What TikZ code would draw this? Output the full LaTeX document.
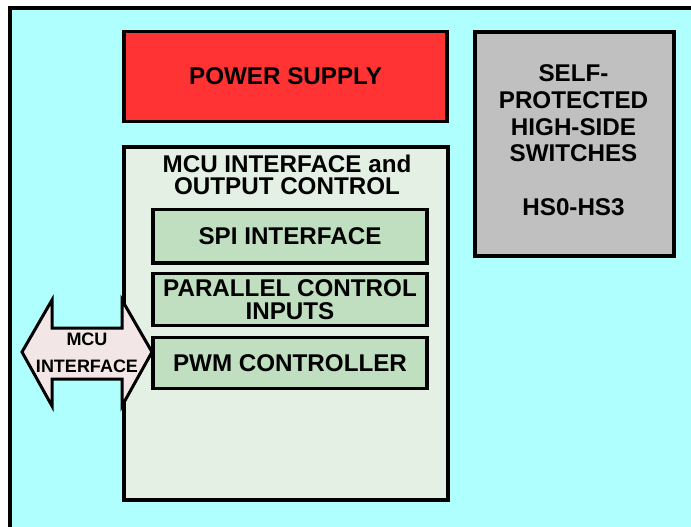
\documentclass[tikz,border=0pt]{standalone}
\usepackage{fontspec}
\setmainfont{Liberation Sans}
\definecolor{bgcyan}{RGB}{175,255,255}
\definecolor{psred}{RGB}{255,51,51}
\definecolor{hsgray}{RGB}{192,192,192}
\definecolor{mcugreen}{RGB}{229,240,228}
\definecolor{boxgreen}{RGB}{192,222,192}
\definecolor{arrowpink}{RGB}{242,230,230}
\begin{document}
\begin{tikzpicture}[x=1pt,y=-1pt,
  blk/.style={draw=black, line width=3.2pt, inner sep=0pt, outer sep=0pt},
  lbl/.style={font=\fontsize{24.2}{26.7}\selectfont\bfseries, align=center, inner sep=0pt},
  small/.style={font=\fontsize{18}{27}\selectfont\bfseries, align=center, inner sep=0pt}
]
\useasboundingbox (0,0) rectangle (691,527);
\fill[white] (0,0) rectangle (691,527);
\draw[line width=3.4pt, fill=bgcyan] (10,8) rectangle (705,540);

% power supply
\node[blk, lbl, fill=psred, minimum width=323pt, minimum height=90pt] (ps) at (285.5,76.3) {POWER SUPPLY};

% high-side switches
\node[blk, fill=hsgray, minimum width=199pt, minimum height=224pt] (hs) at (574.5,144) {};
\node[lbl] (hstext) at (573.5,140.3) {SELF-\\PROTECTED\\HIGH-SIDE\\SWITCHES\\[26.7pt]HS0-HS3};

% MCU interface block
\node[blk, fill=mcugreen, minimum width=324pt, minimum height=353pt] (mcu) at (286,323.5) {};
\node[lbl, font=\fontsize{24.2}{22.3}\selectfont\bfseries] (mcutitle) at (287,175) {MCU INTERFACE and\\OUTPUT CONTROL};

% MCU interface double arrow
\draw[line width=3pt, line join=miter, fill=arrowpink]
  (22,352) -- (52,300) -- (52,328) -- (122,328) -- (122,300) -- (152,352)
  -- (122,406) -- (122,379) -- (52,379) -- (52,406) -- cycle;
\node[small] (mcuif) at (87,352.5) {MCU\\INTERFACE};

% inner boxes
\node[blk, lbl, fill=boxgreen, minimum width=274pt, minimum height=53.5pt] (spi) at (290,236.3) {SPI INTERFACE};
\node[blk, lbl, fill=boxgreen, minimum width=274pt, minimum height=52pt,
      font=\fontsize{24.2}{23.3}\selectfont\bfseries] (par) at (290,299.5) {PARALLEL CONTROL\\INPUTS};
\node[blk, lbl, fill=boxgreen, minimum width=274pt, minimum height=51pt] (pwm) at (290,363) {PWM CONTROLLER};
\end{tikzpicture}
\end{document}
